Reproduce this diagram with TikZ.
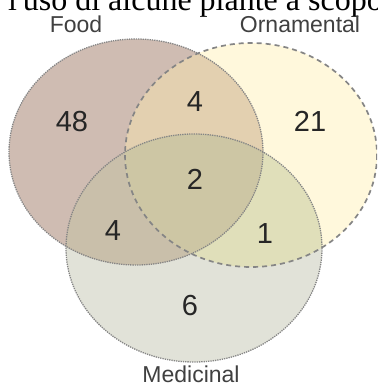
\documentclass[tikz,border=0pt]{standalone}
\usepackage{fontspec}
\setmainfont{Liberation Sans}
\newfontfamily\capfont{Liberation Serif}
\usepackage{xcolor}
\usepackage{tikz}
\usetikzlibrary{positioning}

\definecolor{foodc}{HTML}{CFBCB2}
\definecolor{ornc}{HTML}{FFF8DC}
\definecolor{medc}{HTML}{E1E2D8}
\definecolor{fo}{HTML}{E3D0B0}
\definecolor{fm}{HTML}{C9BFAA}
\definecolor{om}{HTML}{E0DFBA}
\definecolor{fom}{HTML}{CDC6A4}
\definecolor{rim}{HTML}{858585}

\begin{document}
\begin{tikzpicture}[x=1pt, y=-1pt,
  dotrim/.style={draw=rim, line width=1.3pt, dash pattern=on 1.3pt off 1pt},
  dashrim/.style={draw=rim, line width=1.7pt, dash pattern=on 5pt off 4pt},
  num/.style={font=\fontsize{29}{31}\selectfont, text=black!85, inner sep=1pt},
  set/.style={font=\fontsize{23}{25}\selectfont, text=black!75, inner sep=1pt}
]
\useasboundingbox (0,0) rectangle (377,387);
\clip (0,0) rectangle (377,387);
\fill[white] (0,0) rectangle (377,387);

\def\foodpath{(136,152) ellipse [x radius=127, y radius=113]}
\def\ornpath{(251,155) ellipse [x radius=126, y radius=112]}
\def\medpath{(194,248) ellipse [x radius=128, y radius=114]}

% --- caption remnant (cut at the top) -----------------------------------
\node[anchor=base west, inner sep=0pt, font=\capfont\fontsize{32}{34}\selectfont]
  (cap) at (8,10.5) {l'uso di alcune piante a scopo};

% --- region fills --------------------------------------------------------
\fill[ornc]  \ornpath;
\fill[medc]  \medpath;
\fill[foodc] \foodpath;
\begin{scope}
  \clip \foodpath;
  \fill[fo] \ornpath;
  \fill[fm] \medpath;
\end{scope}
\begin{scope}
  \clip \ornpath;
  \fill[om] \medpath;
\end{scope}
\begin{scope}
  \clip \foodpath;
  \clip \ornpath;
  \fill[fom] \medpath;
\end{scope}

% --- outlines ------------------------------------------------------------
\draw[dotrim]  \foodpath;
\draw[dotrim]  \medpath;
\draw[dashrim] \ornpath;

% --- set names -----------------------------------------------------------
\node[set] (food) at (76,24)  {Food};
\node[set] (orn)  at (300,24) {Ornamental};
\node[set] (med)  at (191,374.5) {Medicinal};

% --- counts --------------------------------------------------------------
\node[num] (n48)  at (72,122)  {48};
\node[num] (nfo)  at (195,102) {4};
\node[num] (n21)  at (310,121) {21};
\node[num] (nall) at (195,179) {2};
\node[num] (nfm)  at (113,231) {4};
\node[num] (nom)  at (265,234) {1};
\node[num] (n6)   at (190,306) {6};
\end{tikzpicture}
\end{document}
